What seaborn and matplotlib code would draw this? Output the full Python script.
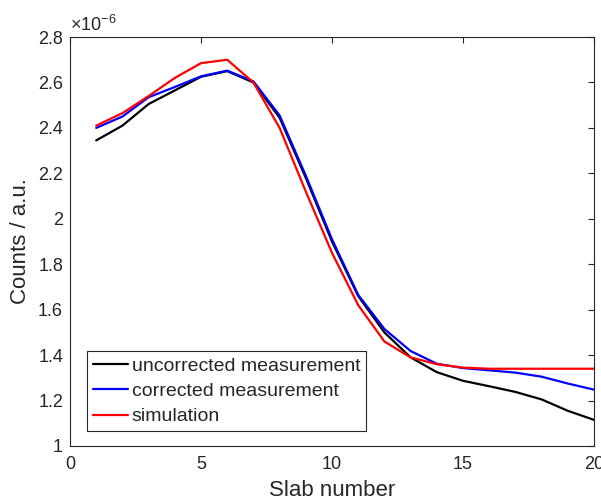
import matplotlib
matplotlib.use('Agg')
import matplotlib.pyplot as plt
import seaborn as sns
import pandas as pd

# ── data (counts in units of 1e-6 a.u.) ─────────────────────────────────────
slabs = list(range(1, 21))
uncorrected = [2.345, 2.41, 2.505, 2.565, 2.625, 2.65, 2.60, 2.445, 2.18, 1.90,
               1.66, 1.50, 1.39, 1.325, 1.287, 1.263, 1.238, 1.205, 1.155, 1.115]
corrected = [2.40, 2.45, 2.535, 2.58, 2.627, 2.652, 2.605, 2.455, 2.19, 1.91,
             1.665, 1.515, 1.418, 1.362, 1.343, 1.333, 1.323, 1.305, 1.275, 1.248]
simulation = [2.41, 2.465, 2.54, 2.62, 2.685, 2.70, 2.60, 2.40, 2.12, 1.85,
              1.62, 1.46, 1.39, 1.36, 1.345, 1.34, 1.34, 1.34, 1.34, 1.34]
series_names = ['uncorrected measurement', 'corrected measurement', 'simulation']
colours = ['#000000', '#0000FF', '#FF0000']

df = pd.DataFrame({
    'slab': slabs * 3,
    'counts': uncorrected + corrected + simulation,
    'series': [n for n in series_names for _ in slabs],
})

sns.set_style('white')
plt.rcParams['font.family'] = ['Liberation Sans', 'DejaVu Sans']
plt.rcParams['mathtext.fontset'] = 'custom'
plt.rcParams['mathtext.rm'] = 'Liberation Sans'

fig = plt.figure(figsize=(6.01, 5.01), dpi=100)
ax = fig.add_axes([0.1165, 0.1098, 0.8718, 0.8163])

sns.lineplot(data=df, x='slab', y='counts', hue='series', hue_order=series_names,
             palette=colours, linewidth=1.6, ax=ax)

ax.set_xlim(0, 20)
ax.set_ylim(1, 2.8)
ax.set_xticks([0, 5, 10, 15, 20])
ax.set_yticks([1, 1.2, 1.4, 1.6, 1.8, 2, 2.2, 2.4, 2.6, 2.8])
ax.set_yticklabels(['1', '1.2', '1.4', '1.6', '1.8', '2', '2.2', '2.4', '2.6', '2.8'])

axis_col = '#262626'
for spine in ax.spines.values():
    spine.set_color(axis_col)
    spine.set_linewidth(0.8)
ax.tick_params(direction='in', top=True, right=True, length=4.5, width=0.8,
               colors=axis_col, labelsize=13, labelcolor=axis_col, pad=5)
ax.tick_params(axis='x', pad=7)

ax.set_xlabel('Slab number', fontsize=16, color=axis_col, labelpad=5)
ax.set_ylabel('Counts / a.u.', fontsize=16, color=axis_col, labelpad=5)
ax.text(0.0, 1.004, r'$\times\mathregular{10^{-6}}$', transform=ax.transAxes,
        fontsize=13, color=axis_col, ha='left', va='bottom')

leg = ax.legend(loc='lower left', bbox_to_anchor=(0.032, 0.036), fontsize=14,
                frameon=True, fancybox=False, framealpha=1, handlelength=1.8,
                handletextpad=0.2, borderpad=0.3, labelspacing=0.4,
                borderaxespad=0)
leg.get_frame().set_edgecolor(axis_col)
leg.get_frame().set_linewidth(0.8)

fig.savefig('out.png', dpi=100)
plt.close(fig)
